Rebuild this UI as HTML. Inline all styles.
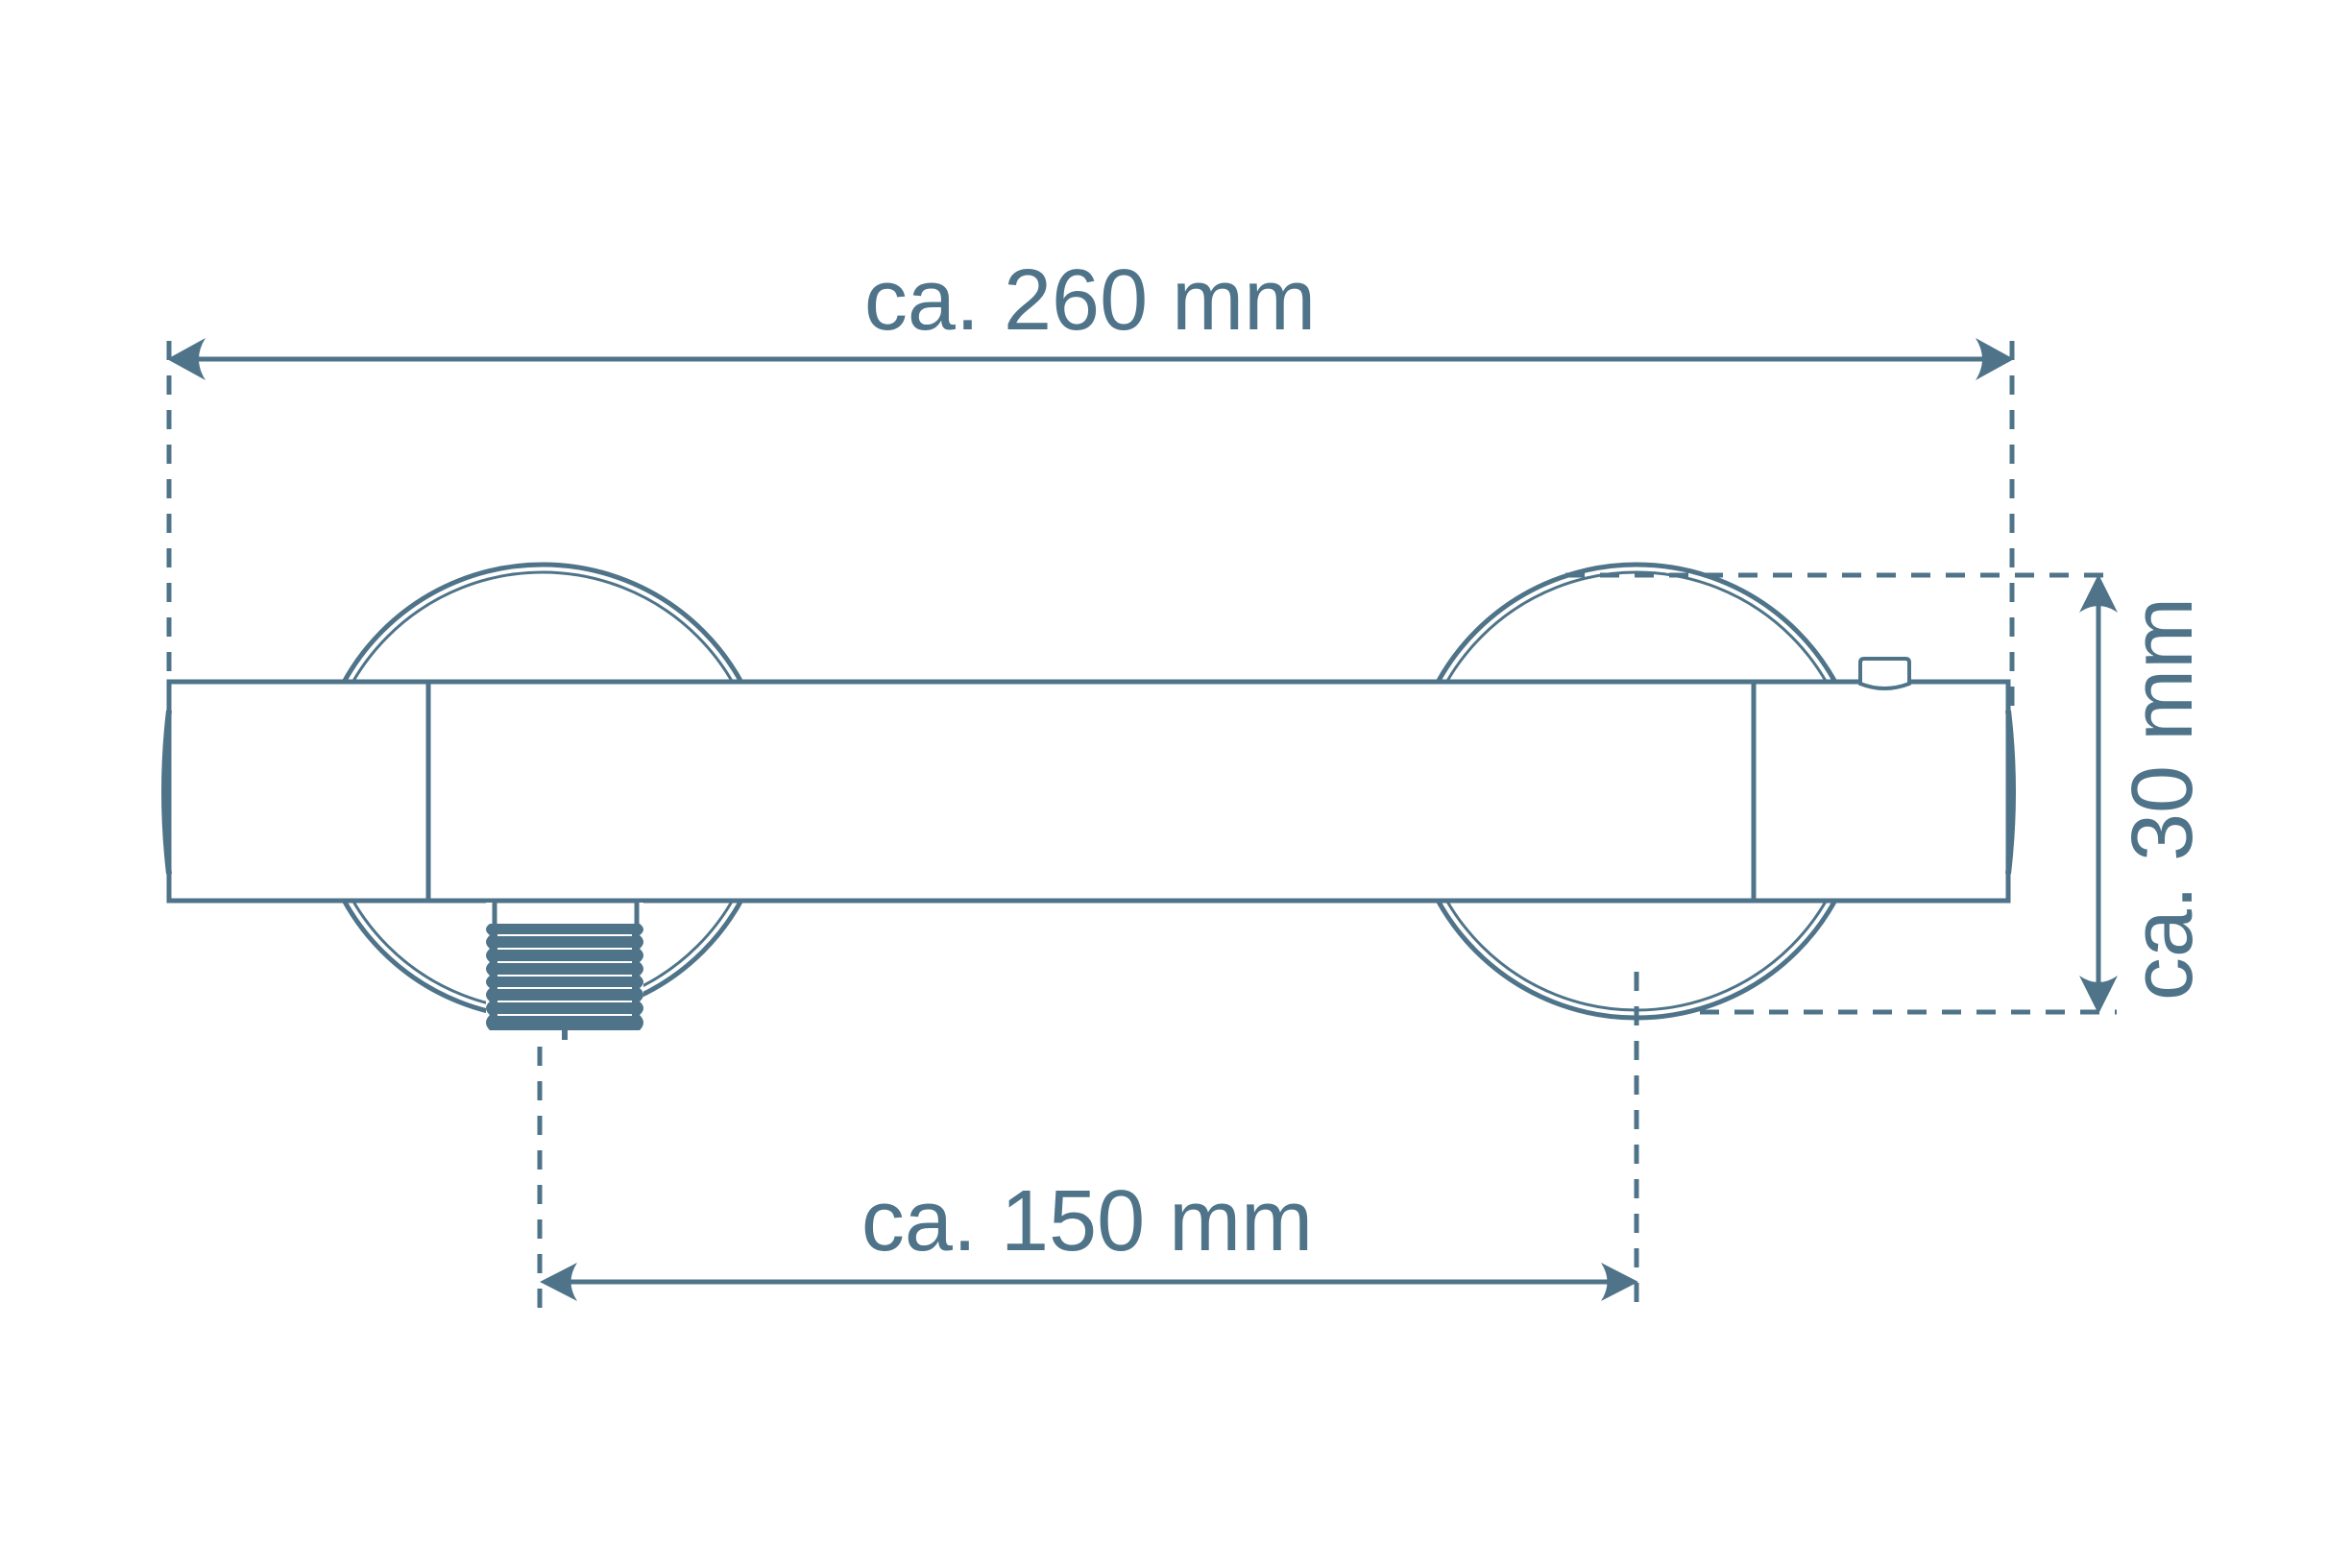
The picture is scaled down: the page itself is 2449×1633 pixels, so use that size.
<!DOCTYPE html>
<html><head><meta charset="utf-8"><style>
html,body{margin:0;padding:0;background:#fff}
svg{display:block}
text{font-family:"Liberation Sans",sans-serif;fill:#4f7489}
</style></head><body>
<svg width="2449" height="1633" viewBox="0 0 2449 1633" xmlns="http://www.w3.org/2000/svg">
<g stroke="#4f7489" fill="none">
  <circle cx="565" cy="824" r="236" stroke-width="5"/>
  <circle cx="565" cy="824" r="228" stroke-width="3"/>
  <circle cx="1704" cy="824" r="236" stroke-width="5"/>
  <circle cx="1704" cy="824" r="228" stroke-width="3"/>
  <rect x="176" y="710" width="1915" height="228" fill="#fff" stroke-width="5"/>
  <line x1="446" y1="710" x2="446" y2="938" stroke-width="5"/>
  <line x1="1826" y1="710" x2="1826" y2="938" stroke-width="5"/>
  <path d="M176 740 Q166 824 176 910" stroke-width="6"/>
  <path d="M2091 740 Q2101 824 2091 910" stroke-width="6"/>
  <path d="M1937 712 L1937 690 Q1937 686 1941 686 L1984 686 Q1988 686 1988 690 L1988 712 Q1962 722 1937 712 Z" fill="#fff" stroke-width="4"/>
  <rect x="506" y="940" width="164" height="134" fill="#fff" stroke="none"/>
  <rect x="515" y="938" width="148" height="30" fill="#fff" stroke-width="5"/>
</g>
<g fill="#4f7489">
  <rect x="510" y="962" width="156" height="111"/>
  <path d="M510 962 q-8 6 0 12 q-8 7 0 14 q-8 7 0 14 q-8 7 0 14 q-8 7 0 13 q-8 7 0 14 q-8 7 0 14 q-8 8 0 16 Z"/>
  <path d="M666 962 q8 6 0 12 q8 7 0 14 q8 7 0 14 q8 7 0 14 q8 7 0 13 q8 7 0 14 q8 7 0 14 q8 8 0 16 Z"/>
  <rect x="585" y="1073" width="6" height="10"/>
</g>
<g fill="#fff">
  <rect x="518" y="973" width="140" height="2"/>
  <rect x="518" y="987" width="140" height="2"/>
  <rect x="518" y="1001" width="140" height="2"/>
  <rect x="518" y="1015" width="140" height="2"/>
  <rect x="518" y="1028" width="140" height="2"/>
  <rect x="518" y="1042" width="140" height="2"/>
  <rect x="518" y="1056" width="140" height="2"/>
</g>
<g stroke="#4f7489" stroke-width="5" fill="none">
  <line x1="176" y1="355" x2="176" y2="708" stroke-dasharray="20 16"/>
  <line x1="2095" y1="355" x2="2095" y2="740" stroke-dasharray="20 16"/>
  <line x1="190" y1="374" x2="2082" y2="374"/>
  <line x1="562" y1="1090" x2="562" y2="1370" stroke-dasharray="20 16"/>
  <line x1="1704" y1="1012" x2="1704" y2="1370" stroke-dasharray="20 16"/>
  <line x1="575" y1="1335" x2="1690" y2="1335"/>
  <line x1="1630" y1="599" x2="2204" y2="599" stroke-dasharray="20 16"/>
  <line x1="1770" y1="1054" x2="2204" y2="1054" stroke-dasharray="20 16"/>
  <line x1="2185" y1="612" x2="2185" y2="1042"/>
</g>
<g fill="#4f7489">
  <path d="M174 374 L214 352 Q200 374 214 396 Z"/>
  <path d="M2097 374 L2057 352 Q2071 374 2057 396 Z"/>
  <path d="M562 1335 L601 1315 Q588 1335 601 1355 Z"/>
  <path d="M1706 1335 L1667 1315 Q1680 1335 1667 1355 Z"/>
  <path d="M2185 598 L2165 638 Q2185 624 2205 638 Z"/>
  <path d="M2185 1056 L2165 1016 Q2185 1030 2205 1016 Z"/>
</g>
<text x="1135" y="343" font-size="90" text-anchor="middle">ca. 260 mm</text>
<text x="1132" y="1302" font-size="90" text-anchor="middle">ca. 150 mm</text>
<text transform="translate(2282,832) rotate(-90)" font-size="90" text-anchor="middle">ca. 30 mm</text>
</svg>
</body></html>
